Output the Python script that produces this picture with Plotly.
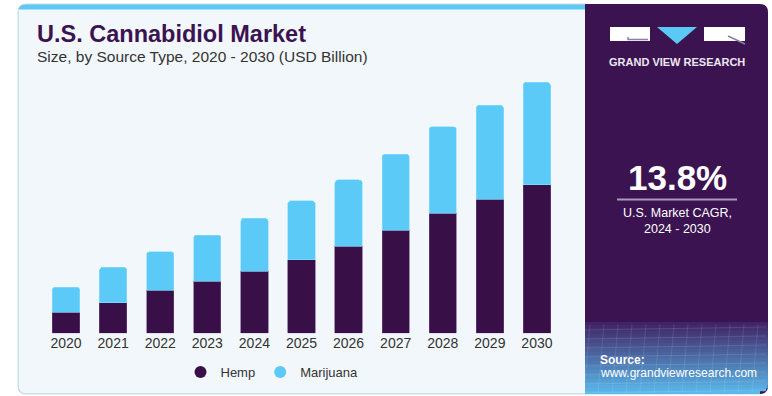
import plotly.graph_objects as go

# ---------------- data ----------------
years = ["2020", "2021", "2022", "2023", "2024", "2025", "2026", "2027", "2028", "2029", "2030"]
hemp = [1.26, 1.84, 2.58, 3.12, 3.74, 4.42, 5.23, 6.19, 7.21, 8.05, 8.92]
marijuana = [1.50, 2.12, 2.32, 2.78, 3.17, 3.54, 3.98, 4.56, 5.20, 5.64, 6.15]
series_names = ["Hemp", "Marijuana"]
callout_year = "2022"
callout_text = "$4.9B"
title_text = "U.S. Cannabidiol Market"
subtitle_text = "Size, by Source Type, 2020 - 2030 (USD Billion)"
cagr_value = "13.8%"
cagr_label = ["U.S. Market CAGR,", "2024 - 2030"]

# ---------------- styling ----------------
W, H = 772, 396
HEMP_C = "#381047"
MARI_C = "#5ccaf7"
PANEL_C = "#3a1350"
CARD_C = "#f2f7fb"
TXT_C = "#333333"
FONT = "Liberation Sans"


def px(x):
    return x / W


def py(y):
    return 1 - y / H


def rounded_path(x0, y0, x1, y1, r, tl=True, tr=True, br=True, bl=True):
    rx, ry = r / W, r / H
    X0, X1 = px(x0), px(x1)
    Y0, Y1 = py(y0), py(y1)  # Y0 top (higher), Y1 bottom
    p = []
    p.append(f"M {X0 + (rx if tl else 0)},{Y0}")
    p.append(f"L {X1 - (rx if tr else 0)},{Y0}")
    if tr:
        p.append(f"Q {X1},{Y0} {X1},{Y0 - ry}")
    p.append(f"L {X1},{Y1 + (ry if br else 0)}")
    if br:
        p.append(f"Q {X1},{Y1} {X1 - rx},{Y1}")
    p.append(f"L {X0 + (rx if bl else 0)},{Y1}")
    if bl:
        p.append(f"Q {X0},{Y1} {X0},{Y1 + ry}")
    p.append(f"L {X0},{Y0 - (ry if tl else 0)}")
    if tl:
        p.append(f"Q {X0},{Y0} {X0 + rx},{Y0}")
    p.append("Z")
    return " ".join(p)


fig = go.Figure()
fig.add_trace(go.Bar(x=years, y=hemp, name=series_names[0], marker_color=HEMP_C,
                     marker_line=dict(width=0.6, color="#6d4a80"), showlegend=False,
                     hoverinfo="skip"))
fig.add_trace(go.Bar(x=years, y=marijuana, name=series_names[1], marker_color=MARI_C,
                     marker_line=dict(width=0.6, color="#8fdcfb"), showlegend=False,
                     hoverinfo="skip"))
# legend entries with circular symbols
fig.add_trace(go.Scatter(x=[None], y=[None], mode="markers", name=series_names[0],
                         marker=dict(symbol="circle", size=12, color=HEMP_C)))
fig.add_trace(go.Scatter(x=[None], y=[None], mode="markers", name=series_names[1],
                         marker=dict(symbol="circle", size=12, color=MARI_C)))

shapes = []
# card with blue top strip
shapes.append(dict(type="path", path=rounded_path(18, 4, 592, 394, 8), fillcolor="#5bc8f5",
                   line=dict(color="#d3d8dd", width=1), layer="below", xref="paper", yref="paper"))
shapes.append(dict(type="path", path=rounded_path(18.5, 9.5, 591, 393.5, 8, tl=False, tr=False),
                   fillcolor=CARD_C, line=dict(width=0), layer="below", xref="paper", yref="paper"))
# right panel
shapes.append(dict(type="path", path=rounded_path(585, 4, 768, 394, 8, tl=False, bl=False),
                   fillcolor=PANEL_C, line=dict(width=0), layer="below", xref="paper", yref="paper"))
# gradient bottom of panel
top_g, bot_g = 322, 394
n = 24
c0 = (0x40, 0x24, 0x66)
c1 = (0x5a, 0xb8, 0xea)
for i in range(n):
    t = i / (n - 1)
    col = tuple(int(c0[k] + (c1[k] - c0[k]) * t) for k in range(3))
    y0 = top_g + (bot_g - top_g) * i / n
    y1 = top_g + (bot_g - top_g) * (i + 1) / n
    inset = 0
    if y1 > bot_g - 8:
        d = y1 - (bot_g - 8)
        inset = 8 - (64 - d * d) ** 0.5 if d < 8 else 8
    shapes.append(dict(type="rect", x0=px(585), x1=px(768 - inset), y0=py(y1 + 0.3), y1=py(y0),
                       fillcolor="rgb(%d,%d,%d)" % col, line=dict(width=0), layer="below",
                       xref="paper", yref="paper"))
# faint grid texture
for k in range(8):
    yy = 328 + k * 9
    shapes.append(dict(type="line", x0=px(585), x1=px(766), y0=py(yy + 2), y1=py(yy - 1),
                       line=dict(color="rgba(255,255,255,0.12)", width=1), xref="paper", yref="paper",
                       layer="below"))
for k in range(13):
    xx = 590 + k * 14
    shapes.append(dict(type="line", x0=px(xx), x1=px(xx - 6), y0=py(324), y1=py(393),
                       line=dict(color="rgba(255,255,255,0.10)", width=1), xref="paper", yref="paper",
                       layer="below"))
# logo
shapes.append(dict(type="rect", x0=px(610), x1=px(650), y0=py(41), y1=py(27), fillcolor="white",
                   line=dict(width=0), xref="paper", yref="paper"))
shapes.append(dict(type="path", path=f"M {px(628)},{py(37)} L {px(628)},{py(39.5)} L {px(648)},{py(39.5)}",
                   line=dict(color="#8d80a3", width=1.5), xref="paper", yref="paper"))
shapes.append(dict(type="path", path=f"M {px(657)},{py(27)} L {px(697)},{py(27)} L {px(677)},{py(44)} Z",
                   fillcolor="#5bc8f5", line=dict(width=0), xref="paper", yref="paper"))
shapes.append(dict(type="rect", x0=px(704), x1=px(745), y0=py(41), y1=py(27), fillcolor="white",
                   line=dict(width=0), xref="paper", yref="paper"))
shapes.append(dict(type="line", x0=px(728), y0=py(36), x1=px(745), y1=py(44),
                   line=dict(color="#8d80a3", width=1.5), xref="paper", yref="paper"))
# CAGR divider
shapes.append(dict(type="line", x0=px(617), x1=px(737), y0=py(199.5), y1=py(199.5),
                   line=dict(color="#a99bbb", width=2), xref="paper", yref="paper"))

ann = []


def txt(x, y, s, size, color, bold=False, xanchor="left", font=FONT, yanchor="middle"):
    ann.append(dict(x=px(x), y=py(y), xref="paper", yref="paper", text=(f"<b>{s}</b>" if bold else s),
                    showarrow=False, xanchor=xanchor, yanchor=yanchor, align="left", borderpad=0,
                    font=dict(family=font, size=size, color=color)))


txt(36, 34, title_text, 23.5, PANEL_C, bold=True)
txt(36, 56, subtitle_text, 15.5, TXT_C)
txt(677, 62, "GRAND VIEW RESEARCH", 11, "#ece8f1", bold=True, xanchor="center")
txt(677.5, 177, cagr_value, 35, "white", bold=True, xanchor="center")
txt(677, 213, cagr_label[0], 12.5, "white", xanchor="center")
txt(677, 228.5, cagr_label[1], 12.5, "white", xanchor="center")
txt(599, 359.5, "Source:", 12, "white", bold=True)
txt(599, 373, "www.grandviewresearch.com", 12, "white")

# callout above 2022 bar
idx = years.index(callout_year)
ann.append(dict(x=callout_year, y=hemp[idx] + marijuana[idx], xref="x", yref="y", text=callout_text,
                showarrow=False, yanchor="bottom", yshift=5,
                font=dict(family=FONT, size=14, color=TXT_C)))

fig.update_layout(
    width=W, height=H,
    margin=dict(l=0, r=0, t=0, b=0),
    paper_bgcolor="white",
    plot_bgcolor="rgba(0,0,0,0)",
    barmode="stack",
    bargap=0.42,
    barcornerradius=3,
    shapes=shapes,
    annotations=ann,
    font=dict(family=FONT, color=TXT_C),
    xaxis=dict(domain=[px(42.5), px(560.5)], range=[-0.5, 10.5], type="category",
               showgrid=False, zeroline=False, showline=False, ticks="",
               tickfont=dict(size=14, color=TXT_C, family=FONT), fixedrange=True),
    yaxis=dict(domain=[py(333.3), py(66.9)], range=[0, 16], visible=False, fixedrange=True),
    legend=dict(orientation="h", x=px(272), xanchor="center", y=py(372), yanchor="middle",
                font=dict(size=13, color=TXT_C, family=FONT), bgcolor="rgba(0,0,0,0)",
                itemwidth=30, traceorder="normal"),
)

fig.write_html("out.html", config={"displayModeBar": False},
               post_script="document.body.style.margin='0';document.body.style.overflow='hidden';")
